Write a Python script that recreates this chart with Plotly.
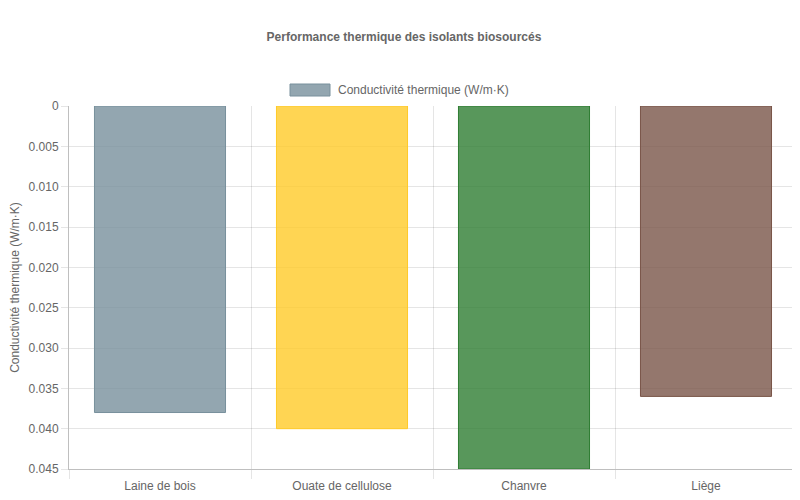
import plotly.graph_objects as go

# Conductivité thermique des isolants (W/m·K)
materials = ["Laine de bois", "Ouate de cellulose", "Chanvre", "Liège"]
conductivity = [0.038, 0.040, 0.045, 0.036]
fill_colors = ["rgba(120,144,156,0.8)", "rgba(255,202,40,0.8)",
               "rgba(46,125,50,0.8)", "rgba(121,85,72,0.8)"]
line_colors = ["#78909C", "#FFCA28", "#2E7D32", "#795548"]
y_ticks = [0, 0.005, 0.010, 0.015, 0.020, 0.025, 0.030, 0.035, 0.040, 0.045]
y_labels = ["0", "0.005", "0.010", "0.015", "0.020", "0.025", "0.030", "0.035", "0.040", "0.045"]

FONT = "Liberation Sans, Arial, sans-serif"
GREY = "#666666"
GRID = "rgba(0,0,0,0.1)"

# page has an 8px body margin, so the figure is a bit smaller and shifted
fig = go.Figure()
fig.add_trace(go.Bar(
    x=materials,
    y=conductivity,
    marker=dict(color=fill_colors, line=dict(color=line_colors, width=1)),
    name="Conductivité thermique (W/m·K)",
    showlegend=False,
))

fig.update_layout(
    width=792, height=492,
    margin=dict(l=61, r=3, t=98, b=31),
    paper_bgcolor="white", plot_bgcolor="white",
    font=dict(family=FONT, size=12, color=GREY),
    bargap=0.28,
    title=dict(text="<b>Performance thermique des isolants biosourcés</b>",
               x=0.5, xanchor="center", y=1 - 29 / 492, yanchor="middle",
               font=dict(family=FONT, size=12, color=GREY)),
    xaxis=dict(
        showgrid=True, gridcolor=GRID, tickson="boundaries",
        ticks="outside", ticklen=9, tickcolor=GRID,
        ticklabelstandoff=6, automargin=False,
        showline=True, linecolor="rgba(0,0,0,0.25)", mirror=False,
        tickfont=dict(size=12, color=GREY),
    ),
    yaxis=dict(
        range=[0.045, 0], tickvals=y_ticks, ticktext=y_labels,
        showgrid=True, gridcolor=GRID, zeroline=False,
        ticks="outside", ticklen=7, tickcolor=GRID,
        showline=True, linecolor="rgba(0,0,0,0.25)", automargin=False,
        tickfont=dict(size=12, color=GREY),
        title=dict(text="Conductivité thermique (W/m·K)", standoff=11,
                   font=dict(size=12, color=GREY)),
    ),
)

# legend drawn like the original: 40x12 swatch + label
fig.add_shape(type="rect", xref="paper", yref="paper",
              x0=(290 - 69) / 728, x1=(330 - 69) / 728,
              y0=(469 - 84) / 363, y1=(469 - 96) / 363,
              fillcolor=fill_colors[0], line=dict(color=line_colors[0], width=1))
fig.add_annotation(text="Conductivité thermique (W/m·K)", xref="paper", yref="paper",
                   x=(336 - 69) / 728, y=(469 - 90) / 363, xanchor="left", yanchor="middle",
                   showarrow=False, font=dict(size=12, color=GREY))

fig.write_html("out.html")
